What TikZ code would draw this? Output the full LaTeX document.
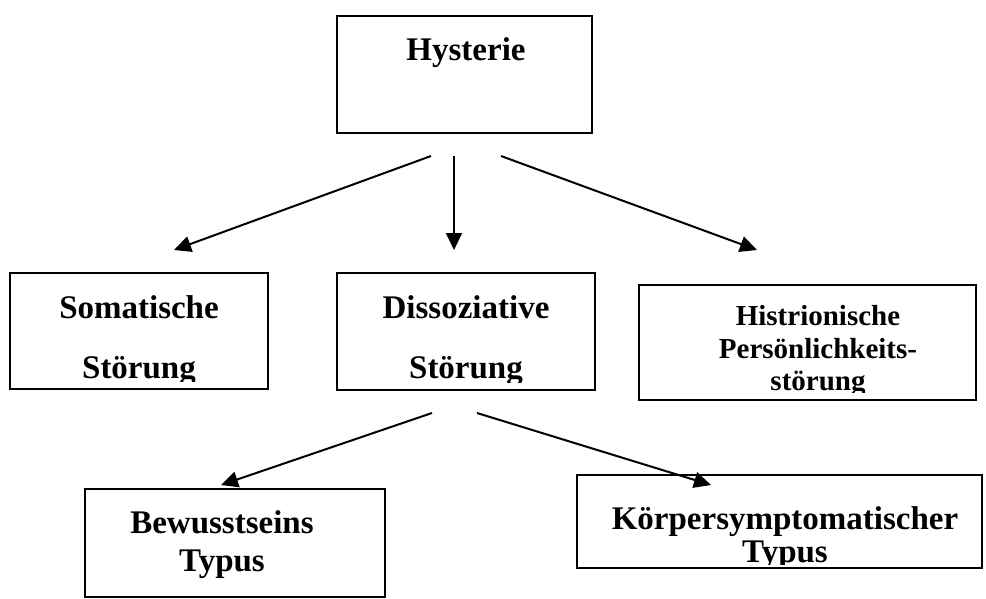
\documentclass[tikz,border=0pt]{standalone}
\usepackage{fontspec}
\setmainfont{Liberation Serif}
\usetikzlibrary{arrows.meta,calc}
\begin{document}
\begin{tikzpicture}[x=1pt,y=-1pt,
  box/.style={draw, line width=2pt, inner sep=0pt, outer sep=0pt},
  lbl/.style={anchor=base, inner sep=0pt, font=\fontsize{33}{33}\selectfont\bfseries},
  slbl/.style={anchor=base, inner sep=0pt, font=\fontsize{29}{29}\selectfont\bfseries},
  arr/.style={line width=2pt, -{Triangle[length=17pt,width=16pt]}}]
\useasboundingbox (0,0) rectangle (986,599);
\fill[white] (0,0) rectangle (986,599);

% boxes
\node[box, minimum width=255pt, minimum height=117pt] (hyst) at (464.5,74.5) {};
\node[box, minimum width=258pt, minimum height=116pt] (soma) at (139,331) {};
\node[box, minimum width=258pt, minimum height=117pt] (diss) at (466,331.5) {};
\node[box, minimum width=337pt, minimum height=115pt] (hist) at (807.5,342.5) {};
\node[box, minimum width=300pt, minimum height=108pt] (bewu) at (235,543) {};
\node[box, minimum width=405pt, minimum height=93pt] (koer) at (779.5,521.5) {};

% texts
\node[lbl] (hystA) at (466,61) {Hysterie};

\begin{scope}
\clip ($(soma.north west)+(1,1)$) rectangle ($(soma.south east)+(-1,-8)$);
\node[lbl] (somaA) at (139,318) {Somatische};
\node[lbl] (somaB) at (139,378) {Störung};
\end{scope}

\begin{scope}
\clip ($(diss.north west)+(1,1)$) rectangle ($(diss.south east)+(-1,-8)$);
\node[lbl] (dissA) at (466,318) {Dissoziative};
\node[lbl] (dissB) at (466,378) {Störung};
\end{scope}

\begin{scope}
\clip ($(hist.north west)+(1,1)$) rectangle ($(hist.south east)+(-1,-8)$);
\node[slbl] (histA) at (818,325) {Histrionische};
\node[slbl] (histB) at (818,358) {Persönlichkeits-};
\node[slbl] (histC) at (818,390) {störung};
\end{scope}

\begin{scope}
\clip ($(bewu.north west)+(1,1)$) rectangle ($(bewu.south east)+(-1,-1)$);
\node[lbl] (bewuA) at (222,533) {Bewusstseins};
\node[lbl] (bewuB) at (222,571) {Typus};
\end{scope}

\begin{scope}
\clip ($(koer.north west)+(1,1)$) rectangle ($(koer.south east)+(-1,-4)$);
\node[lbl] (koerA) at (785,529) {Körpersymptomatischer};
\node[lbl] (koerB) at (785,562) {Typus};
\end{scope}

% connector end points
\coordinate (h1) at (431,156);
\coordinate (h2) at (454,156);
\coordinate (h3) at (501,156);
\coordinate (t1) at (174,250);
\coordinate (t2) at (454,250);
\coordinate (t3) at (757,250);
\coordinate (d1) at (432,413);
\coordinate (d2) at (477,413);
\coordinate (t4) at (221,485);
\coordinate (t5) at (711,485);

\draw[arr] (h1) -- (t1);
\draw[arr] (h2) -- (t2);
\draw[arr] (h3) -- (t3);
\draw[arr] (d1) -- (t4);
\draw[arr] (d2) -- (t5);
\end{tikzpicture}
\end{document}
